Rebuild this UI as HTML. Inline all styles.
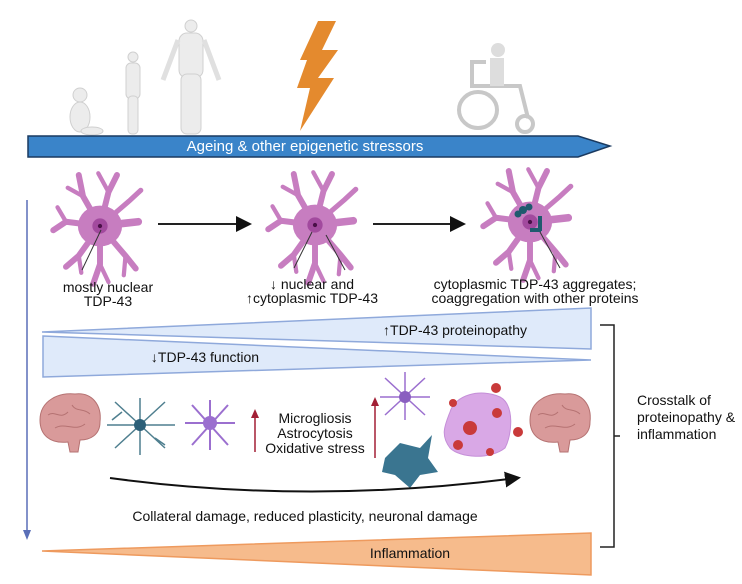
<!DOCTYPE html>
<html><head><meta charset="utf-8"><style>
html,body{margin:0;padding:0;background:#fff}
svg{display:block}
text{font-family:"Liberation Sans Narrow","Liberation Sans",sans-serif;fill:#111}
</style></head><body>
<svg width="742" height="584" viewBox="0 0 742 584" xmlns="http://www.w3.org/2000/svg">
<defs>
<g id="neuron">
 <g stroke="#c77dc0" stroke-linecap="round" fill="none">
  <path d="M0 0 L-20 -35 L-25 -60" stroke-width="7"/>
  <path d="M-20 -35 L-38 -45" stroke-width="5"/>
  <path d="M0 0 L10 -40 L20 -60" stroke-width="7"/>
  <path d="M10 -40 L-2 -62" stroke-width="5"/>
  <path d="M0 0 L45 -5" stroke-width="9"/>
  <path d="M0 0 L-40 -5 L-55 5" stroke-width="7"/>
  <path d="M-40 -5 L-50 -22" stroke-width="5"/>
  <path d="M0 0 L-25 35 L-40 48" stroke-width="7"/>
  <path d="M-25 35 L-22 55" stroke-width="5"/>
  <path d="M0 0 L0 45 L-8 68" stroke-width="7"/>
  <path d="M0 45 L10 66" stroke-width="5"/>
  <path d="M0 0 L30 35 L42 50" stroke-width="7"/>
  <path d="M30 35 L28 58" stroke-width="5"/>
  <path d="M0 0 L35 -30 L48 -42" stroke-width="6"/>
 </g>
 <ellipse cx="0" cy="0" rx="26" ry="24" fill="#c77dc0"/>
 <circle cx="0" cy="0" r="9" fill="#a24a9e"/>
 <circle cx="0" cy="0" r="2.5" fill="#4a1048"/>
</g>
<g id="brain">
 <path d="M0 20 C0 0 20 -8 35 -6 C52 -8 62 5 60 22 C60 35 50 40 40 40 L38 52 L30 52 L28 42 C10 44 0 35 0 20Z" fill="#d99a9a" stroke="#b57272"/>
 <path d="M8 15 C15 10 20 20 28 12 M15 28 C25 22 35 32 45 24 M32 5 C36 12 44 8 50 14" stroke="#b57272" fill="none"/>
</g>
<marker id="ah" markerWidth="8" markerHeight="8" refX="6" refY="4" orient="auto"><path d="M0 0 L8 4 L0 8Z" fill="#111"/></marker>
</defs>

<!-- figures -->
<g fill="#ececec" stroke="#d0d0d0">
 <circle cx="80" cy="95" r="7"/><ellipse cx="80" cy="117" rx="10" ry="15"/><ellipse cx="92" cy="131" rx="11" ry="4"/>
 <circle cx="133" cy="57" r="5"/><rect x="126" y="63" width="14" height="36" rx="5"/><rect x="128" y="96" width="10" height="38" rx="4"/>
 <circle cx="191" cy="26" r="6"/><rect x="179" y="33" width="24" height="45" rx="8"/><rect x="181" y="74" width="20" height="60" rx="6"/>
 <path d="M178 40 L163 80 M204 40 L219 80" stroke-width="5" stroke="#e0e0e0"/>
</g>
<path d="M318 21 L336 21 L322 50 L338 50 L318 78 L334 78 L300 131 L310 88 L297 88 L307 60 L300 60Z" fill="#e48a2e"/>
<g fill="none" stroke="#c8c8c8" stroke-width="4">
 <ellipse cx="478" cy="110" rx="19" ry="18"/><circle cx="525" cy="124" r="8"/>
 <path d="M472 62 L472 86 L520 86 L528 118 M470 62 L486 62"/>
</g>
<circle cx="498" cy="50" r="7" fill="#ddd"/><rect x="490" y="58" width="14" height="28" fill="#ddd"/>

<!-- main arrow -->
<path d="M28 136 L578 136 L610 146 L578 157 L28 157Z" fill="#3a84c9" stroke="#1a3a60" stroke-width="1.5"/>
<text x="305" y="151" text-anchor="middle" font-size="15" style="fill:#fff">Ageing &amp; other epigenetic stressors</text>

<!-- neurons -->
<g transform="translate(100,226) scale(0.85)"><use href="#neuron"/></g>
<g transform="translate(315,225) scale(0.85)"><use href="#neuron"/></g>
<g transform="translate(530,222) scale(0.85)"><use href="#neuron"/></g>
<g fill="#1f5a6e"><circle cx="523" cy="210" r="4"/><circle cx="529" cy="207" r="3.5"/><circle cx="518" cy="214" r="3.5"/><rect x="538" y="216" width="4" height="15"/><rect x="530" y="228" width="11" height="4"/></g>
<g stroke="#333" stroke-width="1"><path d="M101 230 L82 270"/><path d="M312 232 L294 268 M326 235 L345 270"/><path d="M540 232 L560 268"/></g>
<path d="M158 224 L248 224" stroke="#222" stroke-width="2" marker-end="url(#ah)"/>
<path d="M373 224 L462 224" stroke="#222" stroke-width="2" marker-end="url(#ah)"/>

<g font-size="14" text-anchor="middle">
 <text x="108" y="292">mostly nuclear</text><text x="108" y="306">TDP-43</text>
 <text x="312" y="289">↓ nuclear and</text><text x="312" y="303">↑cytoplasmic TDP-43</text>
 <text x="535" y="289">cytoplasmic TDP-43 aggregates;</text><text x="535" y="303">coaggregation with other proteins</text>
</g>

<!-- vertical line -->
<path d="M27 200 L27 532" stroke="#5a6fb8" stroke-width="1.5"/>
<path d="M23 530 L31 530 L27 540Z" fill="#5a6fb8"/>

<!-- wedges -->
<path d="M42 332 L591 308 L591 349Z" fill="#dfeafa" stroke="#8fa9db" stroke-width="1.5"/>
<path d="M43 336 L591 360 L43 377Z" fill="#dfeafa" stroke="#8fa9db" stroke-width="1.5"/>
<text x="455" y="335" font-size="14" text-anchor="middle">↑TDP-43 proteinopathy</text>
<text x="205" y="362" font-size="14" text-anchor="middle">↓TDP-43 function</text>

<!-- cells row -->
<use href="#brain" x="40" y="400"/>
<use href="#brain" x="530" y="400"/>
<g stroke="#4f7f8f" stroke-width="1.5" fill="none">
 <path d="M107 425 L175 425 M140 398 L140 455 M115 402 L165 448 M165 402 L115 448 M122 412 L112 420 M155 438 L165 445"/>
</g>
<circle cx="140" cy="425" r="6" fill="#2b5f78"/>
<g stroke="#9b6fcf" stroke-width="2" fill="none"><path d="M185 423 L235 423 M210 400 L210 450 M192 405 L228 445 M228 405 L192 445"/></g>
<circle cx="210" cy="423" r="7" fill="#9b6fcf"/>
<g stroke="#a21f35" stroke-width="1.5"><path d="M255 452 L255 416"/><path d="M375 458 L375 404"/></g>
<path d="M251 418 L255 409 L259 418Z" fill="#a21f35"/><path d="M371 406 L375 397 L379 406Z" fill="#a21f35"/>
<g font-size="14" text-anchor="middle"><text x="315" y="423">Microgliosis</text><text x="315" y="438">Astrocytosis</text><text x="315" y="453">Oxidative stress</text></g>
<g stroke="#9b6fcf" stroke-width="1.5" fill="none"><path d="M380 397 L430 397 M405 372 L405 420 M385 378 L425 415 M425 378 L385 415"/></g>
<circle cx="405" cy="397" r="6" fill="#8a5fc0"/>
<path d="M385 458 L400 443 L420 448 L432 435 L428 458 L438 472 L420 475 L410 488 L395 475 L382 472Z" fill="#3a7590"/>
<path d="M450 412 C455 395 480 388 500 397 C515 405 512 435 505 448 C490 460 460 458 450 448 C440 435 445 425 450 412Z" fill="#d9a8e6" stroke="#c58fd8"/>
<g fill="#c93a3a"><circle cx="470" cy="428" r="7"/><circle cx="497" cy="413" r="5"/><circle cx="496" cy="388" r="5"/><circle cx="453" cy="403" r="4"/><circle cx="518" cy="432" r="5"/><circle cx="458" cy="445" r="5"/><circle cx="490" cy="452" r="4"/></g>

<path d="M110 478 Q310 505 517 478" stroke="#111" stroke-width="2" fill="none" marker-end="url(#ah)"/>
<text x="305" y="521" font-size="14" text-anchor="middle">Collateral damage, reduced plasticity, neuronal damage</text>

<!-- inflammation -->
<path d="M42 551 L591 533 L591 575Z" fill="#f6bb8c" stroke="#ee9a5e" stroke-width="1.5"/>
<text x="410" y="558" font-size="14" text-anchor="middle">Inflammation</text>

<!-- bracket -->
<path d="M600 325 L614 325 L614 547 L600 547 M614 436 L620 436" stroke="#222" stroke-width="1.5" fill="none"/>
<g font-size="14"><text x="637" y="405">Crosstalk of</text><text x="637" y="422">proteinopathy &amp;</text><text x="637" y="439">inflammation</text></g>
</svg>
</body></html>
